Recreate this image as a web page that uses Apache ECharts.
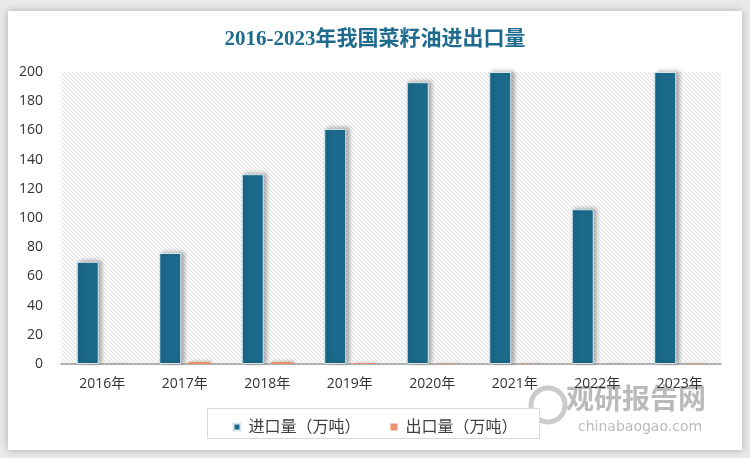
<!DOCTYPE html>
<html>
<head>
<meta charset="utf-8">
<script src="https://cdn.jsdelivr.net/npm/echarts@6/dist/echarts.min.js"></script>
<style>
html,body{margin:0;padding:0;background:#e9e9e9;}
#c{width:750px;height:458px;}
</style>
</head>
<body>
<div id="c"></div>
<script>
const categories = ['2016年','2017年','2018年','2019年','2020年','2021年','2022年','2023年'];
const importValues = [70, 76, 130, 161, 193, 200, 106, 200];
const exportValues = [0.1, 1.4, 1.4, 0.7, 0.3, 0.2, 0.1, 0.3];
const yTicks = [0, 20, 40, 60, 80, 100, 120, 140, 160, 180, 200];
const seriesNames = ['进口量（万吨）', '出口量（万吨）'];
const titleText = '2016-2023年我国菜籽油进出口量';

// hatch pattern
const pc = document.createElement('canvas');
pc.width = 4; pc.height = 4;
const g = pc.getContext('2d');
g.fillStyle = '#fafafa';
g.fillRect(0,0,4,4);
g.strokeStyle = '#e0e0e0';
g.lineWidth = 1;
g.beginPath();
g.moveTo(-1,-1); g.lineTo(5,5);
g.moveTo(-1,3); g.lineTo(1,5);
g.moveTo(3,-1); g.lineTo(5,1);
g.stroke();
const hatch = {image: pc, repeat: 'repeat'};

const chart = echarts.init(document.getElementById('c'), null, {renderer: 'canvas'});
const cjk = '"Open Sans", "Noto Sans CJK SC", sans-serif';
chart.setOption({
  animation: false,
  backgroundColor: '#e9e9e9',
  graphic: [
    {type: 'rect', z: -10, shape: {x: 8, y: 11, width: 734, height: 439},
     style: {fill: '#ffffff', shadowBlur: 8, shadowColor: 'rgba(0,0,0,0.25)'}},
    {type: 'rect', z: 1, shape: {x: 207.5, y: 408.5, width: 332, height: 30},
     style: {fill: '#ffffff', stroke: '#d9d9d9', lineWidth: 1}},
    {type: 'text', z: 0, left: 566, top: 384,
     style: {text: '观研报告网', fill: 'rgba(140,140,140,0.6)', font: 'bold 28px "Noto Sans CJK SC", sans-serif'}},
    {type: 'text', z: 0, left: 578, top: 420,
     style: {text: 'chinabaogao.com', fill: 'rgba(140,140,140,0.6)', font: '14px "DejaVu Sans", sans-serif'}},
    {type: 'circle', z: 0, shape: {cx: 548, cy: 405, r: 17},
     style: {fill: 'none', stroke: 'rgba(160,160,160,0.55)', lineWidth: 5}}
  ],
  title: {
    text: titleText,
    left: 'center',
    top: 24,
    textStyle: {color: '#1f6b8e', fontSize: 21, fontWeight: 'bold',
      fontFamily: '"Liberation Serif", "Noto Sans CJK SC", serif'}
  },
  legend: {
    data: seriesNames,
    left: 'center',
    top: 414,
    icon: 'rect',
    itemWidth: 7,
    itemHeight: 7,
    itemGap: 30,
    z: 3,
    textStyle: {color: '#404040', fontSize: 16, fontFamily: cjk, padding: [0, 0, 0, 3]}
  },
  grid: {
    left: 61, right: 29, top: 72, bottom: 94,
    show: true, backgroundColor: hatch, borderWidth: 0
  },
  xAxis: {
    type: 'category',
    data: categories,
    axisLine: {lineStyle: {color: '#9a9a9a', width: 1.5}},
    axisTick: {show: false},
    axisLabel: {color: '#333333', fontSize: 14, margin: 13, fontFamily: cjk}
  },
  yAxis: {
    type: 'value',
    min: yTicks[0],
    max: yTicks[yTicks.length - 1],
    interval: yTicks[1] - yTicks[0],
    axisLine: {show: false},
    axisTick: {show: false},
    splitLine: {show: false},
    axisLabel: {color: '#333333', fontSize: 14, margin: 18, fontFamily: cjk}
  },
  series: [
    {
      name: seriesNames[0], type: 'bar', data: importValues,
      barWidth: 22, barGap: '32%',
      itemStyle: {color: '#1b6a8c', borderColor: '#d8e6ec', borderWidth: 1,
        shadowColor: 'rgba(0,0,0,0.3)', shadowBlur: 4, shadowOffsetX: 3, shadowOffsetY: -1}
    },
    {
      name: seriesNames[1], type: 'bar', data: exportValues,
      barWidth: 22,
      itemStyle: {color: '#e8916a',
        shadowColor: 'rgba(0,0,0,0.25)', shadowBlur: 3, shadowOffsetX: 2, shadowOffsetY: -1}
    }
  ]
});
</script>
</body>
</html>
